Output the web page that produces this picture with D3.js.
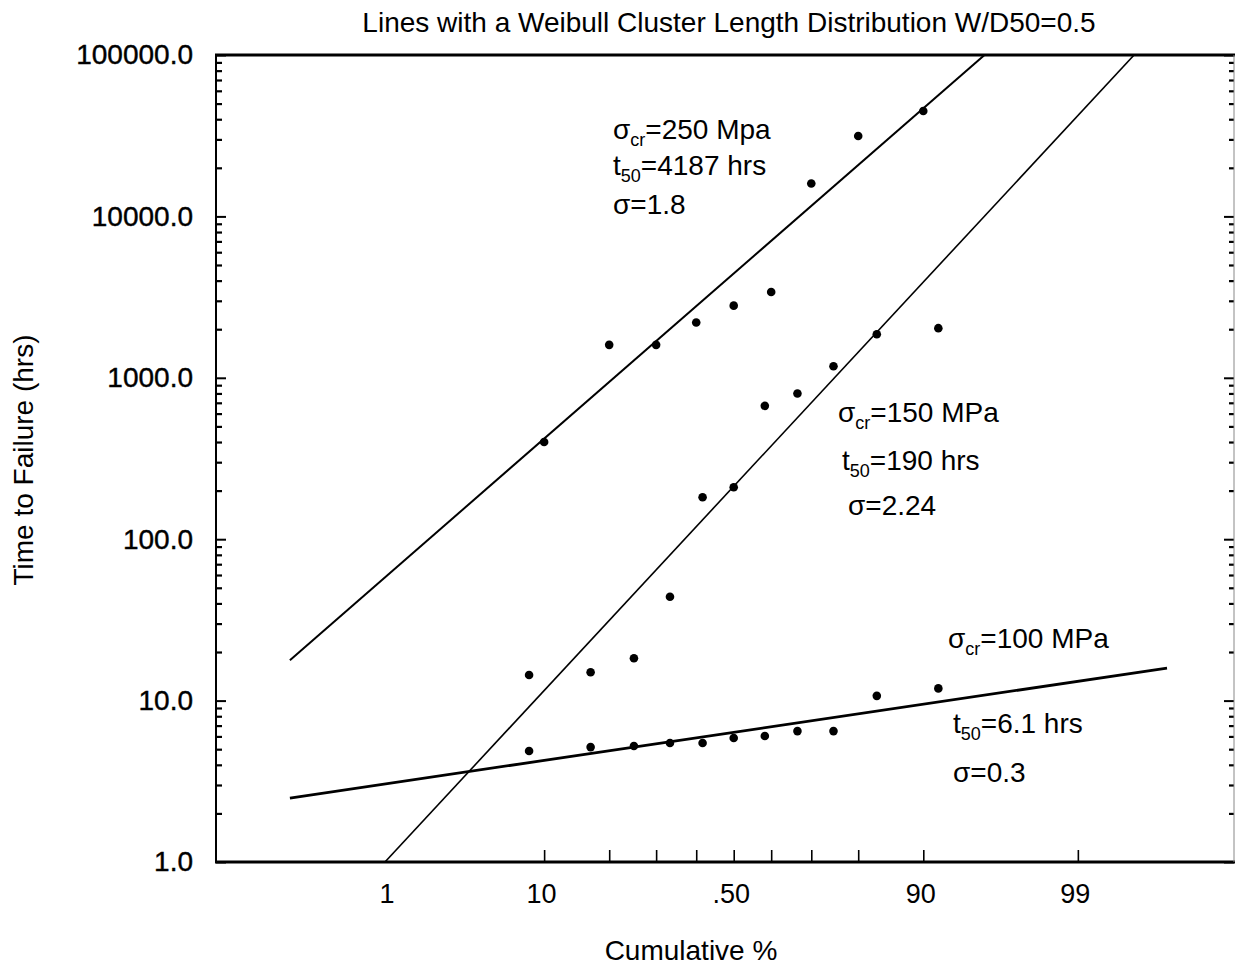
<!DOCTYPE html>
<html>
<head>
<meta charset="utf-8">
<script src="https://cdn.jsdelivr.net/npm/d3@7"></script>
<style>
  html, body { margin: 0; padding: 0; background: #fff; }
  svg { display: block; font-family: "Liberation Sans", Arial, Helvetica, sans-serif; }
</style>
</head>
<body>
<svg id="chart" width="1236" height="968"></svg>
<script>
// ---------------- data ----------------
const titleText = "Lines with a Weibull Cluster Length Distribution W/D50=0.5";
const xAxisTitle = "Cumulative %";
const yAxisTitle = "Time to Failure (hrs)";

const yTickValues = [1, 10, 100, 1000, 10000, 100000];
const yTickLabels = ["1.0", "10.0", "100.0", "1000.0", "10000.0", "100000.0"];

const xLabelPcts = [1, 10, 50, 90, 99];
const xLabelTexts = ["1", "10", ".50", "90", "99"];
const xTickPcts = [10, 20, 30, 40, 50, 60, 70, 80, 90, 99];
const xDomainPct = [0.0233, 99.964];

// sigma_cr = 250 MPa
const cumPct250 = [10, 20, 30, 40, 50, 60, 70, 80, 90];
const hours250 = [400, 1600, 1600, 2200, 2800, 3400, 16000, 31500, 45000];
// sigma_cr = 150 MPa
const cumPct150 = [8.33, 16.67, 25, 33.33, 41.67, 50, 58.33, 66.67, 75, 83.33, 91.67];
const hours150 = [14.4, 15, 18.3, 44, 182, 210, 670, 800, 1180, 1860, 2030];
// sigma_cr = 100 MPa
const cumPct100 = [8.33, 16.67, 25, 33.33, 41.67, 50, 58.33, 66.67, 75, 83.33, 91.67];
const hours100 = [4.87, 5.15, 5.23, 5.46, 5.46, 5.86, 6.03, 6.47, 6.47, 10.7, 11.9];

// fitted lognormal lines: endpoints [cumulative %, hours]
const fit250 = [[0.135, 17.8], [95.5, 100000]];
const fit150 = [[0.92, 1], [99.66, 100000]];
const fit100 = [[0.135, 2.49], [99.83, 15.9]];

// ---------------- helpers ----------------
// inverse standard normal CDF (Acklam)
function probit(p) {
  const a = [-3.969683028665376e+01, 2.209460984245205e+02, -2.759285104469687e+02, 1.383577518672690e+02, -3.066479806614716e+01, 2.506628277459239e+00];
  const b = [-5.447609879822406e+01, 1.615858368580409e+02, -1.556989798598866e+02, 6.680131188771972e+01, -1.328068155288572e+01];
  const c = [-7.784894002430293e-03, -3.223964580411365e-01, -2.400758277161838e+00, -2.549732539343734e+00, 4.374664141464968e+00, 2.938163982698783e+00];
  const d = [7.784695709041462e-03, 3.224671290700398e-01, 2.445134137142996e+00, 3.754408661907416e+00];
  const pl = 0.02425, ph = 1 - pl;
  let q, r;
  if (p < pl) {
    q = Math.sqrt(-2 * Math.log(p));
    return (((((c[0]*q+c[1])*q+c[2])*q+c[3])*q+c[4])*q+c[5]) / ((((d[0]*q+d[1])*q+d[2])*q+d[3])*q+1);
  } else if (p <= ph) {
    q = p - 0.5; r = q * q;
    return (((((a[0]*r+a[1])*r+a[2])*r+a[3])*r+a[4])*r+a[5])*q / (((((b[0]*r+b[1])*r+b[2])*r+b[3])*r+b[4])*r+1);
  } else {
    q = Math.sqrt(-2 * Math.log(1 - p));
    return -(((((c[0]*q+c[1])*q+c[2])*q+c[3])*q+c[4])*q+c[5]) / ((((d[0]*q+d[1])*q+d[2])*q+d[3])*q+1);
  }
}
const zOf = pct => probit(pct / 100);

// ---------------- layout ----------------
const mL = 216, mR = 1234, mT = 55, mB = 862;
const FONT = 28;

const svg = d3.select("#chart");

const xz = d3.scaleLinear().domain(xDomainPct.map(zOf)).range([mL, mR]);
const xP = pct => xz(zOf(pct));
const y = d3.scaleLog().domain([1, 100000]).range([mB, mT]);

const minorTicks = [];
yTickValues.slice(0, -1).forEach(v => { for (let k = 2; k <= 9; k++) minorTicks.push(v * k); });

// clip
svg.append("defs").append("clipPath").attr("id", "plotclip")
  .append("rect").attr("x", mL).attr("y", mT).attr("width", mR - mL).attr("height", mB - mT);

// ---------- axes ----------
const gLeft = svg.append("g").attr("transform", `translate(${mL},0)`)
  .call(d3.axisLeft(y).tickValues(yTickValues).tickFormat((d, i) => yTickLabels[i]).tickSize(-10).tickPadding(23));
gLeft.select(".domain").remove();
gLeft.selectAll(".tick line").attr("stroke", "#000").attr("stroke-width", 2);
gLeft.selectAll(".tick text").attr("font-size", FONT).attr("fill", "#000")
  .attr("stroke", "#000").attr("stroke-width", 0.4)
  .attr("font-family", "Liberation Sans, Arial, sans-serif");

const gLeftMinor = svg.append("g").attr("transform", `translate(${mL},0)`)
  .call(d3.axisLeft(y).tickValues(minorTicks).tickFormat("").tickSize(-6));
gLeftMinor.select(".domain").remove();
gLeftMinor.selectAll(".tick line").attr("stroke", "#000").attr("stroke-width", 2.2);

const gRight = svg.append("g").attr("transform", `translate(${mR},0)`)
  .call(d3.axisRight(y).tickValues(yTickValues).tickFormat("").tickSize(-10));
gRight.select(".domain").remove();
gRight.selectAll(".tick line").attr("stroke", "#000").attr("stroke-width", 2);
const gRightMinor = svg.append("g").attr("transform", `translate(${mR},0)`)
  .call(d3.axisRight(y).tickValues(minorTicks).tickFormat("").tickSize(-5));
gRightMinor.select(".domain").remove();
gRightMinor.selectAll(".tick line").attr("stroke", "#000").attr("stroke-width", 2.2);

const gBottom = svg.append("g").attr("transform", `translate(0,${mB})`)
  .call(d3.axisBottom(xz).tickValues(xTickPcts.map(zOf)).tickFormat("").tickSize(-12));
gBottom.select(".domain").remove();
gBottom.selectAll(".tick line").attr("stroke", "#000").attr("stroke-width", 1.6);

const gBottomLabels = svg.append("g").attr("transform", `translate(-3,${mB})`)
  .call(d3.axisBottom(xz).tickValues(xLabelPcts.map(zOf)).tickFormat((d, i) => xLabelTexts[i]).tickSize(0).tickPadding(22));
gBottomLabels.select(".domain").remove();
gBottomLabels.selectAll(".tick text").attr("font-size", FONT - 1).attr("fill", "#000")
  .attr("font-family", "Liberation Sans, Arial, sans-serif");

// frame
svg.append("line").attr("x1", mL - 1).attr("x2", mR + 1).attr("y1", mT).attr("y2", mT).attr("stroke", "#000").attr("stroke-width", 3);
svg.append("line").attr("x1", mL - 1).attr("x2", mR + 1).attr("y1", mB).attr("y2", mB).attr("stroke", "#000").attr("stroke-width", 3);
svg.append("line").attr("x1", mL).attr("x2", mL).attr("y1", mT).attr("y2", mB).attr("stroke", "#000").attr("stroke-width", 2);
svg.append("line").attr("x1", mR).attr("x2", mR).attr("y1", mT).attr("y2", mB).attr("stroke", "#888").attr("stroke-width", 1);

// ---------- fitted lines ----------
const lineGen = d3.line().x(d => xP(d[0])).y(d => y(d[1]));
const gLines = svg.append("g").attr("clip-path", "url(#plotclip)");
gLines.append("path").datum(fit250).attr("d", lineGen).attr("fill", "none").attr("stroke", "#000").attr("stroke-width", 2);
gLines.append("path").datum(fit150).attr("d", lineGen).attr("fill", "none").attr("stroke", "#000").attr("stroke-width", 1.6);
gLines.append("path").datum(fit100).attr("d", lineGen).attr("fill", "none").attr("stroke", "#000").attr("stroke-width", 2.8);

// ---------- points ----------
const series = [
  [cumPct250, hours250],
  [cumPct150, hours150],
  [cumPct100, hours100]
];
series.forEach(([ps, hs]) => {
  svg.append("g").selectAll("circle").data(ps.map((p, i) => [p, hs[i]])).join("circle")
    .attr("cx", d => xP(d[0])).attr("cy", d => y(d[1])).attr("r", 4.3).attr("fill", "#000");
});

// ---------- annotations ----------
function annot(xp, yp, parts) {
  const t = svg.append("text").attr("x", xp).attr("y", yp).attr("font-size", FONT).attr("fill", "#000");
  let shifted = false;
  parts.forEach(pt => {
    const s = t.append("tspan").text(pt.t);
    if (pt.sub) { s.attr("font-size", 18).attr("dy", 7); shifted = true; }
    else if (shifted) { s.attr("dy", -7); shifted = false; }
  });
}
annot(613, 139, [{t: "σ"}, {t: "cr", sub: true}, {t: "=250 Mpa"}]);
annot(613, 175, [{t: "t"}, {t: "50", sub: true}, {t: "=4187 hrs"}]);
annot(613, 214, [{t: "σ=1.8"}]);

annot(838, 422, [{t: "σ"}, {t: "cr", sub: true}, {t: "=150 MPa"}]);
annot(842, 470, [{t: "t"}, {t: "50", sub: true}, {t: "=190 hrs"}]);
annot(848, 515, [{t: "σ=2.24"}]);

annot(948, 648, [{t: "σ"}, {t: "cr", sub: true}, {t: "=100 MPa"}]);
annot(953, 733, [{t: "t"}, {t: "50", sub: true}, {t: "=6.1 hrs"}]);
annot(953, 782, [{t: "σ=0.3"}]);

// ---------- titles ----------
svg.append("text").attr("x", 729).attr("y", 32).attr("text-anchor", "middle")
  .attr("font-size", 28).attr("fill", "#000").text(titleText);
svg.append("text").attr("x", 691).attr("y", 960).attr("text-anchor", "middle")
  .attr("font-size", 28).attr("fill", "#000").text(xAxisTitle);
svg.append("text").attr("transform", "translate(33,460) rotate(-90)").attr("text-anchor", "middle")
  .attr("font-size", 28).attr("fill", "#000").text(yAxisTitle);
</script>
</body>
</html>
